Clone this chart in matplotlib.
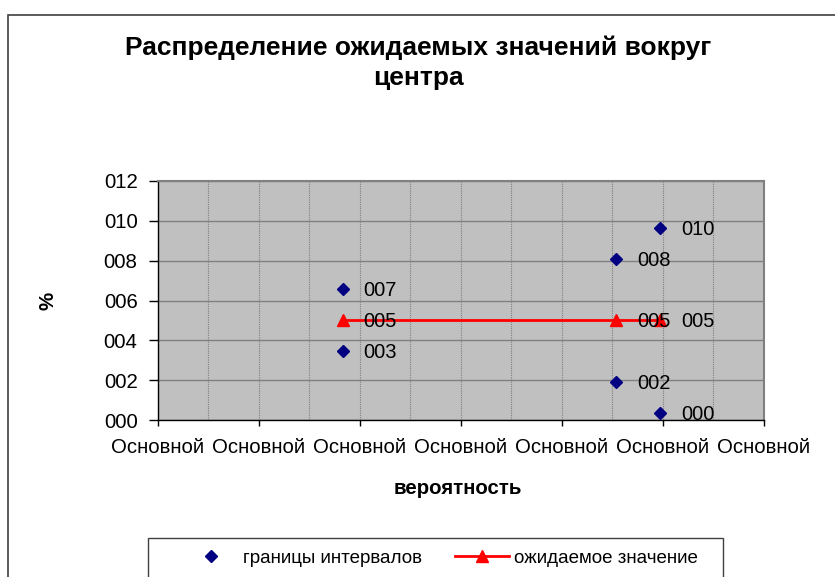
import matplotlib

matplotlib.use("Agg")
import matplotlib.pyplot as plt
from matplotlib.lines import Line2D
from matplotlib.patches import Rectangle
from matplotlib.ticker import FuncFormatter, MultipleLocator

plt.rcParams["font.family"] = ["Liberation Sans", "DejaVu Sans"]

# data
interval_x = [1.83, 1.83, 4.54, 4.54, 4.97, 4.97]
interval_y = [6.56, 3.44, 8.09, 1.91, 9.65, 0.35]
expected_x = [1.83, 4.54, 4.97]
expected_y = [5.0, 5.0, 5.0]
x_tick_label = "Основной"

title = "Распределение ожидаемых значений вокруг\nцентра"
x_label = "вероятность"
y_label = "%"
series_names = ["границы интервалов", "ожидаемое значение"]

W, H = 835, 577
fig = plt.figure(figsize=(W / 100, H / 100), dpi=100)

# outer chart border (runs off the right and bottom edges)
fig.patches.append(Rectangle((8 / W, -0.2), 1.2, 1 - 14.5 / H + 0.2,
                             transform=fig.transFigure, fill=False,
                             edgecolor="#404040", linewidth=1.2, clip_on=False))

ax = fig.add_axes([157.7 / W, (H - 420) / H, 606.3 / W, 239 / H])
ax.set_facecolor("#C0C0C0")

ax.set_xlim(0, 6)
ax.set_ylim(0, 12)
ax.xaxis.set_major_locator(MultipleLocator(1))
ax.xaxis.set_minor_locator(MultipleLocator(0.5))
ax.yaxis.set_major_locator(MultipleLocator(2))
ax.xaxis.set_major_formatter(FuncFormatter(lambda v, p: x_tick_label))
ax.yaxis.set_major_formatter(FuncFormatter(lambda v, p: f"{v:03.0f}"))

ax.grid(True, axis="x", which="both", color="#808080", linestyle=(0, (1, 1)), linewidth=0.8)
ax.grid(True, axis="y", which="major", color="#808080", linestyle="-", linewidth=1.0)
ax.set_axisbelow(True)

ax.tick_params(axis="x", which="major", direction="out", length=4, width=1,
               labelsize=14.7, colors="black", pad=9)
ax.tick_params(axis="y", which="major", direction="out", length=6.5, width=1,
               labelsize=14.7, colors="black", pad=8)
ax.tick_params(axis="x", which="minor", length=0)
for side in ("top", "right"):
    ax.spines[side].set_color("#808080")
    ax.spines[side].set_linewidth(1.5)
for side in ("left", "bottom"):
    ax.spines[side].set_color("black")
    ax.spines[side].set_linewidth(1.0)

pts, = ax.plot(interval_x, interval_y, linestyle="none", marker="D", markersize=6,
               color="#000080", zorder=4)
line, = ax.plot(expected_x, expected_y, color="#FF0000", linewidth=2, marker="^",
                markersize=9, zorder=3)

for xv, yv in zip(interval_x, interval_y):
    ax.annotate(f"{yv:03.0f}", (xv, yv), xytext=(15, -1), textcoords="offset points",
                ha="left", va="center", fontsize=14.5, zorder=5)
for xv, yv in zip(expected_x, expected_y):
    ax.annotate(f"{yv:03.0f}", (xv, yv), xytext=(15, -1), textcoords="offset points",
                ha="left", va="center", fontsize=14.5, zorder=5)

fig.text(418 / W, 1 - 63 / H, title, ha="center", va="center", fontsize=19,
         fontweight="bold", linespacing=1.3)
fig.text(48 / W, 1 - 301 / H, y_label, ha="center", va="center", rotation=90,
         fontsize=14.7, fontweight="bold")
fig.text(458 / W, 1 - 489 / H, x_label, ha="center", va="center", fontsize=14.7,
         fontweight="bold")

# legend box, cut off by the bottom edge as in the reference
fig.patches.append(Rectangle((148 / W, -0.1), (723 - 148) / W, 0.1 + (H - 538) / H,
                             transform=fig.transFigure, facecolor="white",
                             edgecolor="#404040", linewidth=1.0, clip_on=False))
h1 = Line2D([], [], linestyle="none", marker="D", markersize=6, color="#000080")
h2 = Line2D([], [], color="#FF0000", linewidth=2, marker="^", markersize=9)
fig.legend([h1, h2], series_names, loc="center", bbox_to_anchor=(441 / W, 1 - 558 / H),
           ncol=2, frameon=False, fontsize=13.5, handlelength=2.9, columnspacing=1.75,
           handletextpad=0.25)

fig.savefig("out.png", dpi=100)
